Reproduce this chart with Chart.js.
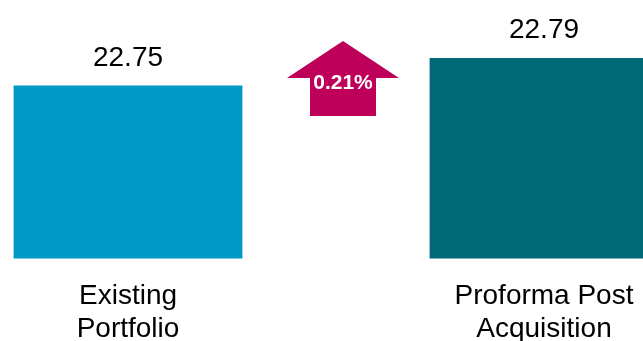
<!DOCTYPE html>
<html>
<head>
<meta charset="utf-8">
<script src="https://cdn.jsdelivr.net/npm/chart.js@4/dist/chart.umd.min.js"></script>
<style>
  html, body { margin: 0; padding: 0; background: #fff; overflow: hidden; }
  #wrap { position: absolute; left: -80px; top: 0; width: 832px; height: 359px; }
</style>
</head>
<body>
<div id="wrap"><canvas id="chart"></canvas></div>
<script>
const categories = [['Existing', 'Portfolio'], ['Proforma Post', 'Acquisition']]
const values = [22.75, 22.79]
const barColors = ['rgb(0, 153, 198)', 'rgb(0, 105, 120)']
const changeLabel = '0.21%'

// labels above bars
const valueLabels = {
    id: 'valueLabels',
    afterDatasetsDraw(chart) {
        const ctx = chart.ctx
        ctx.save()
        ctx.font = '28px "Liberation Sans", Arial, sans-serif'
        ctx.fillStyle = '#000'
        ctx.textAlign = 'center'
        ctx.textBaseline = 'alphabetic'
        chart.getDatasetMeta(0).data.forEach((bar, i) => {
            ctx.fillText(values[i].toFixed(2), bar.x, bar.y - 20)
        })
        ctx.restore()
    }
}

// magenta arrow between the bars
const changeArrow = {
    id: 'changeArrow',
    afterDatasetsDraw(chart) {
        const ctx = chart.ctx
        const bars = chart.getDatasetMeta(0).data
        const cx = (bars[0].x + bars[1].x) / 2 + 7
        const top = chart.chartArea.top - 10
        ctx.save()
        ctx.fillStyle = 'rgb(190, 0, 90)'
        ctx.beginPath()
        ctx.moveTo(cx, top)
        ctx.lineTo(cx + 56, top + 37)
        ctx.lineTo(cx + 33, top + 37)
        ctx.lineTo(cx + 33, top + 75)
        ctx.lineTo(cx - 33, top + 75)
        ctx.lineTo(cx - 33, top + 37)
        ctx.lineTo(cx - 56, top + 37)
        ctx.closePath()
        ctx.fill()
        ctx.font = 'bold 21px "Liberation Sans", Arial, sans-serif'
        ctx.fillStyle = '#fff'
        ctx.textAlign = 'center'
        ctx.textBaseline = 'middle'
        ctx.fillText(changeLabel, cx, top + 42)
        ctx.restore()
    }
}

new Chart(document.getElementById('chart'), {
    type: 'bar',
    data: {
        labels: categories,
        datasets: [{
            data: values,
            backgroundColor: barColors,
            borderWidth: 0,
            categoryPercentage: 1,
            barPercentage: 0.55
        }]
    },
    options: {
        responsive: true,
        maintainAspectRatio: false,
        animation: false,
        layout: { padding: { top: 51, bottom: 0, left: 0, right: 0 } },
        plugins: { legend: { display: false }, tooltip: { enabled: false } },
        scales: {
            x: {
                grid: { display: false },
                border: { display: false },
                ticks: {
                    color: '#000',
                    padding: 14,
                    font: { family: '"Liberation Sans", Arial, sans-serif', size: 28, lineHeight: 1.15 }
                }
            },
            y: {
                display: false,
                min: 22.5,
                max: 22.8
            }
        }
    },
    plugins: [valueLabels, changeArrow]
})
</script>
</body>
</html>
